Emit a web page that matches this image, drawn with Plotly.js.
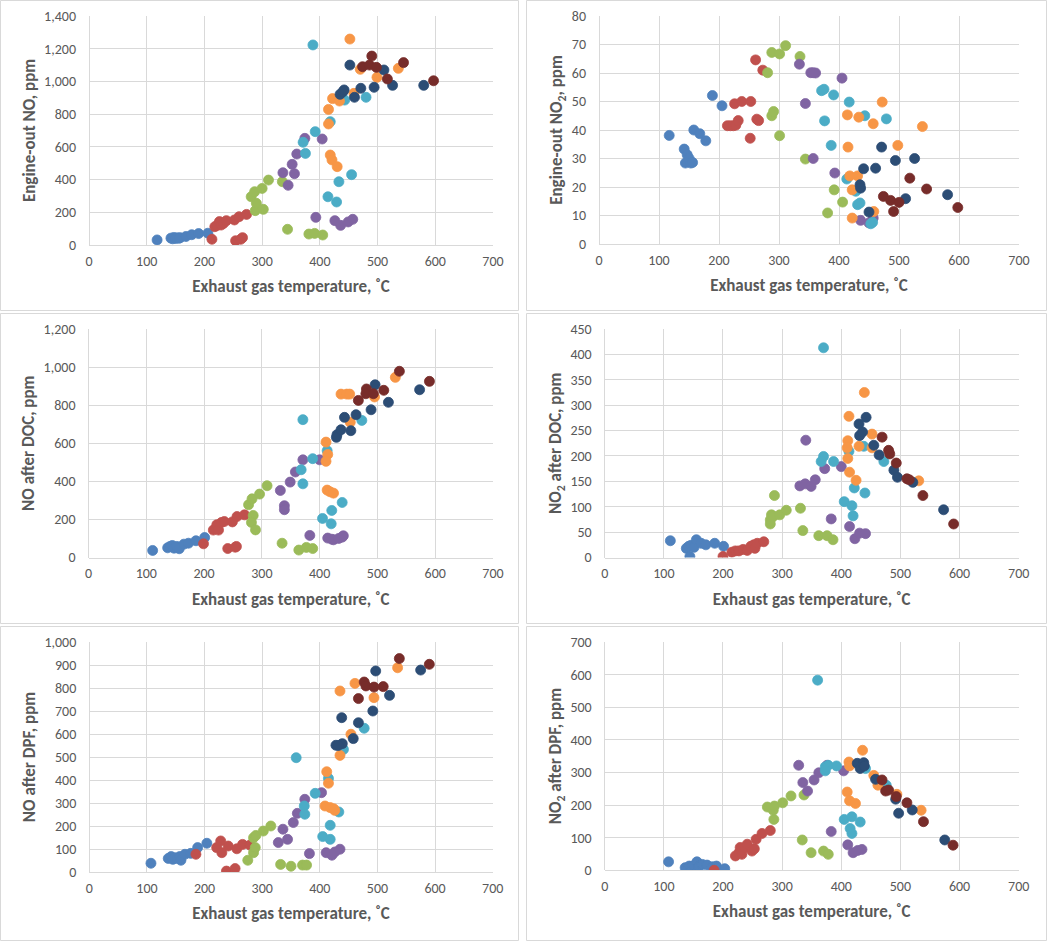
<!DOCTYPE html>
<html>
<head>
<meta charset="utf-8">
<script src="https://cdn.plot.ly/plotly-3.0.1.min.js"></script>
<style>html,body{margin:0;padding:0;background:#fff;}#chart{width:1047px;height:941px;}</style>
</head>
<body>
<div id="chart"></div>
<script>
// ---- Series names / colours (order of drawing) ----
const seriesNames = ["S1", "S2", "S3", "S4", "S5", "S6", "S7", "S8"];
const seriesColors = ["#4F81BD", "#C0504D", "#9BBB59", "#8064A2", "#4BACC6", "#F79646", "#2C4D75", "#772C2A"];

// ---- Panel 1: Engine-out NO, ppm  [temperature, value] ----
const engNO_blue = [[118,31],[142,42],[145,38],[147,46],[150,40],[153,44],[156,41],[158,45],[168,52],[178,63],[190,70],[206,72]];
const engNO_red = [[213,35],[218,112],[222,120],[226,143],[229,122],[233,132],[238,149],[252,153],[254,26],[260,173],[263,35],[266,45],[273,187]];
const engNO_green = [[281,295],[287,326],[288,210],[290,255],[300,346],[302,218],[311,397],[335,387],[344,96],[381,67],[391,71],[405,61]];
const engNO_purple = [[336,442],[345,365],[352,493],[356,436],[360,556],[374,652],[404,648],[393,169],[426,149],[436,120],[449,141],[457,157]];
const engNO_cyan = [[388,1223],[371,628],[375,560],[392,693],[418,754],[414,295],[429,263],[433,387],[455,430],[443,886],[480,903]];
const engNO_orange = [[452,1259],[415,740],[415,829],[422,895],[434,880],[459,927],[470,1074],[499,1025],[536,1080],[418,550],[421,520],[430,479]];
const engNO_darkblue = [[452,1100],[435,921],[440,937],[442,948],[460,903],[471,958],[494,964],[511,1070],[526,976],[580,976]];
const engNO_darkred = [[474,1090],[486,1100],[490,1155],[498,1086],[517,1015],[545,1115],[597,1004]];

// ---- Panel 2: Engine-out NO2, ppm ----
const engNO2_blue = [[117,38.1],[142,33.3],[144,28.4],[147,31.3],[150,30.1],[153,28.4],[156,28.6],[158,40],[168,38.7],[178,36.2],[189,52.1],[205,48.5]];
const engNO2_red = [[214,41.5],[219,41.5],[224,41.5],[226,49.2],[228,41.7],[232,43.3],[238,50],[252,37.1],[253,50],[261,64.6],[263,43.8],[266,43.3],[273,61]];
const engNO2_green = [[281,60.1],[288,67.2],[288,45],[291,46.5],[301,66.7],[301,38],[311,69.6],[335,65.8],[344,29.8],[381,10.9],[392,19],[406,14.7]];
const engNO2_purple = [[334,63.1],[344,49.3],[353,60.1],[357,60.1],[361,60],[357,30],[405,58.2],[393,24.9],[436,8.3],[450,7.4],[457,9.1]];
const engNO2_cyan = [[391,52.3],[371,53.8],[375,54.3],[417,49.8],[443,45],[479,43.9],[376,43.2],[387,34.6],[413,22.8],[428,18.5],[431,13.8],[435,14.4],[456,7.6],[453,7.1]];
const engNO2_orange = [[472,49.8],[414,45.3],[433,44.5],[457,42.2],[539,41.2],[415,34],[498,34.6],[418,23.9],[431,23.9],[422,19],[422,9.1],[458,11.4]];
const engNO2_darkblue = [[471,34],[494,29.3],[526,30],[441,26.4],[461,26.6],[435,20.8],[436,19.6],[450,11.2],[511,15.9],[581,17.3]];
const engNO2_darkred = [[518,23.1],[546,19.3],[474,16.7],[486,15.3],[500,14.6],[491,11.4],[598,12.8]];

// ---- Panel 3: NO after DOC, ppm ----
const docNO_blue = [[111,37],[137,51],[141,58],[145,63],[148,49],[153,58],[157,46],[165,70],[173,75],[186,88],[201,105]];
const docNO_red = [[199,72],[216,144],[222,172],[225,144],[230,184],[235,189],[249,187],[257,215],[270,224],[241,47],[254,54],[256,58]];
const docNO_green = [[277,277],[283,308],[296,333],[309,377],[285,221],[282,184],[289,145],[335,75],[364,39],[377,53],[388,47]];
const docNO_purple = [[332,352],[339,272],[339,251],[349,396],[358,449],[371,513],[400,513],[383,116],[414,102],[421,96],[424,93],[433,100],[439,107],[441,114]];
const docNO_cyan = [[371,724],[388,519],[368,461],[371,387],[413,561],[439,289],[421,247],[405,205],[420,177],[473,720]];
const docNO_orange = [[411,606],[414,541],[411,505],[413,354],[418,345],[424,338],[437,858],[447,858],[452,858],[453,710],[495,843],[531,946]];
const docNO_darkblue = [[496,907],[443,736],[463,750],[489,776],[430,645],[429,631],[437,671],[454,666],[519,815],[573,881]];
const docNO_darkred = [[538,978],[590,925],[511,878],[481,885],[480,860],[493,860],[467,825]];

// ---- Panel 4: NO2 after DOC, ppm ----
const docNO2_blue = [[111,33],[138,18],[142,22],[146,24],[144,2],[151,20],[155,35],[163,28],[171,25],[186,28],[201,22]];
const docNO2_red = [[200,2],[215,10.5],[221,13],[227,13],[234,16],[241,14],[247,22],[252,25],[254,18],[258,28],[269,31]];
const docNO2_green = [[287,122],[280,74],[282,84],[285,81],[296,84],[307,93],[331,97],[335,53],[362,43],[376,43],[386,35],[280,66]];
const docNO2_purple = [[340,231],[330,141],[339,145],[349,140],[356,153],[372,175],[400,179],[383,76],[414,61],[423,37],[431,48],[441,47]];
const docNO2_cyan = [[370,413],[370,199],[366,189],[387,189],[413,209],[438,219],[472,189],[422,137],[440,127],[405,110],[418,102],[420,82]];
const docNO2_orange = [[439,325],[413,278],[411,230],[410,216],[411,195],[430,219],[452,243],[452,216],[414,168],[425,152],[531,151]];
const docNO2_darkblue = [[442,276],[430,263],[431,240],[436,247],[455,221],[464,202],[489,172],[495,158],[521,148],[573,94]];
const docNO2_darkred = [[469,237],[480,211],[482,204],[493,186],[511,155],[515,153],[538,122],[590,66]];

// ---- Panel 5: NO after DPF, ppm ----
const dpfNO_blue = [[107,38],[137,59],[142,67],[145,55],[149,62],[153,59],[157,67],[159,51],[166,77],[176,81],[188,106],[204,125]];
const dpfNO_red = [[185,77],[221,106],[228,135],[230,84],[241,113],[256,101],[266,120],[279,117],[238,4],[253,15]];
const dpfNO_green = [[275,51],[285,84],[288,106],[285,149],[289,159],[302,178],[315,200],[332,33],[350,25],[370,30],[377,30]];
const dpfNO_purple = [[328,128],[336,186],[344,142],[354,215],[361,255],[374,316],[403,345],[382,80],[411,84],[421,73],[426,87],[435,99]];
const dpfNO_cyan = [[359,497],[392,342],[373,287],[374,251],[415,407],[418,203],[405,154],[418,142],[433,261],[441,533],[477,625]];
const dpfNO_orange = [[435,787],[461,820],[535,888],[494,758],[454,599],[435,507],[412,436],[415,386],[409,287],[418,280],[424,275],[426,268]];
const dpfNO_darkblue = [[497,874],[575,878],[521,768],[492,700],[438,671],[467,649],[458,580],[439,558],[428,551],[432,550]];
const dpfNO_darkred = [[538,928],[590,903],[477,826],[480,809],[494,804],[510,806],[467,754]];

// ---- Panel 6: NO2 after DPF, ppm ----
const dpfNO2_blue = [[108,26],[136,8],[143,13],[147,11],[151,15],[156,26],[159,11],[165,18],[173,16],[182,11],[189,13],[203,5]];
const dpfNO2_red = [[185,0],[221,44],[227,54],[229,70],[232,49],[238,70],[241,80],[249,59],[253,66],[256,95],[266,113],[280,122]];
const dpfNO2_green = [[275,194],[285,184],[287,197],[286,156],[301,207],[315,228],[337,231],[334,93],[349,54],[370,59],[378,49]];
const dpfNO2_purple = [[328,322],[335,269],[343,243],[354,277],[362,299],[376,322],[404,305],[383,119],[411,78],[420,54],[428,61],[435,64]];
const dpfNO2_cyan = [[360,583],[373,317],[378,322],[392,320],[373,305],[405,156],[418,164],[432,148],[415,128],[418,113],[476,261],[441,312]];
const dpfNO2_orange = [[436,368],[413,332],[414,320],[455,291],[462,261],[410,240],[414,213],[424,205],[494,233],[535,184]];
const dpfNO2_darkblue = [[427,328],[438,330],[432,312],[439,320],[458,279],[492,218],[497,175],[520,185],[575,93]];
const dpfNO2_darkred = [[469,277],[475,243],[480,246],[493,226],[511,207],[539,149],[589,77]];

// ---- Axis titles / ranges ----
const xTitle = "Exhaust gas temperature, ˚C";
const yTitles = ["Engine-out NO, ppm", "Engine-out NO<sub>2</sub>, ppm", "NO after DOC, ppm",
                 "NO<sub>2</sub> after DOC, ppm", "NO after DPF, ppm", "NO<sub>2</sub> after DPF, ppm"];
const yMax = [1400, 80, 1200, 450, 1000, 700];
const yStep = [200, 10, 200, 50, 100, 100];
const xMax = 700, xStep = 100;

const panels = [
  [engNO_blue, engNO_red, engNO_green, engNO_purple, engNO_cyan, engNO_orange, engNO_darkblue, engNO_darkred],
  [engNO2_blue, engNO2_red, engNO2_green, engNO2_purple, engNO2_cyan, engNO2_orange, engNO2_darkblue, engNO2_darkred],
  [docNO_blue, docNO_red, docNO_green, docNO_purple, docNO_cyan, docNO_orange, docNO_darkblue, docNO_darkred],
  [docNO2_blue, docNO2_red, docNO2_green, docNO2_purple, docNO2_cyan, docNO2_orange, docNO2_darkblue, docNO2_darkred],
  [dpfNO_blue, dpfNO_red, dpfNO_green, dpfNO_purple, dpfNO_cyan, dpfNO_orange, dpfNO_darkblue, dpfNO_darkred],
  [dpfNO2_blue, dpfNO2_red, dpfNO2_green, dpfNO2_purple, dpfNO2_cyan, dpfNO2_orange, dpfNO2_darkblue, dpfNO2_darkred]
];

// ---- Layout geometry (pixels) ----
const W = 1047, H = 941;
const plotBoxes = [ // [left, right, top, bottom] of plotting area
  [89, 493, 16, 245], [599, 1019, 16, 244],
  [88.5, 493, 329, 557.5], [604.7, 1018.7, 329, 557.5],
  [89.3, 492.7, 642, 872], [604.7, 1018.7, 642, 870.3]
];
const panelBoxes = [ // outer panel frames
  [0.5, 518.5, 0.5, 310.5], [526.5, 1046.5, 0.5, 310.5],
  [0.5, 518.5, 313.5, 623.5], [526.5, 1046.5, 313.5, 623.5],
  [0.5, 518.5, 626.5, 940.5], [526.5, 1046.5, 626.5, 940.5]
];

const FONT = "Carlito, Lato, 'Open Sans', sans-serif";
const grey = "#595959";
const traces = [];
const layout = {
  width: W, height: H, margin: {l: 0, r: 0, t: 0, b: 0},
  paper_bgcolor: "#ffffff", plot_bgcolor: "#ffffff",
  showlegend: false, font: {family: FONT, color: grey},
  shapes: []
};

panels.forEach((series, i) => {
  const k = i + 1;
  const xa = "x" + (k === 1 ? "" : k), ya = "y" + (k === 1 ? "" : k);
  series.forEach((pts, s) => {
    traces.push({
      type: "scatter", mode: "markers", name: seriesNames[s],
      x: pts.map(p => p[0]), y: pts.map(p => p[1]),
      xaxis: xa, yaxis: ya,
      marker: {color: seriesColors[s], size: 10, line: {width: 0.8, color: seriesColors[s]}},
      showlegend: false
    });
  });
  const b = plotBoxes[i];
  const xKey = "xaxis" + (k === 1 ? "" : k), yKey = "yaxis" + (k === 1 ? "" : k);
  layout[xKey] = {
    domain: [b[0] / W, b[1] / W], anchor: ya, range: [0, xMax], dtick: xStep, tick0: 0,
    showgrid: true, gridcolor: "#d9d9d9", gridwidth: 1,
    zeroline: true, zerolinecolor: "#d9d9d9", showline: true, linecolor: "#d9d9d9",
    ticks: "", ticklabelstandoff: 3, tickfont: {family: FONT, size: 14, color: grey}, fixedrange: true,
    title: {text: xTitle, font: {family: FONT, size: 17, color: grey, weight: "bold"}, standoff: 11}
  };
  layout[yKey] = {
    domain: [1 - b[3] / H, 1 - b[2] / H], anchor: xa, range: [0, yMax[i]], dtick: yStep[i], tick0: 0,
    showgrid: true, gridcolor: "#d9d9d9", gridwidth: 1,
    zeroline: true, zerolinecolor: "#d9d9d9", showline: false,
    ticks: "", ticklabelstandoff: 12, tickformat: ",d", tickfont: {family: FONT, size: 14, color: grey}, fixedrange: true,
    title: {text: yTitles[i], font: {family: FONT, size: 17, color: grey, weight: "bold"}, standoff: 4}
  };
  const pb = panelBoxes[i];
  layout.shapes.push({
    type: "rect", xref: "paper", yref: "paper",
    x0: pb[0] / W, x1: pb[1] / W, y0: 1 - pb[3] / H, y1: 1 - pb[2] / H,
    line: {color: "#d9d9d9", width: 1}, fillcolor: "rgba(0,0,0,0)", layer: "below"
  });
});

Plotly.newPlot("chart", traces, layout, {displayModeBar: false, staticPlot: true});
</script>
</body>
</html>
